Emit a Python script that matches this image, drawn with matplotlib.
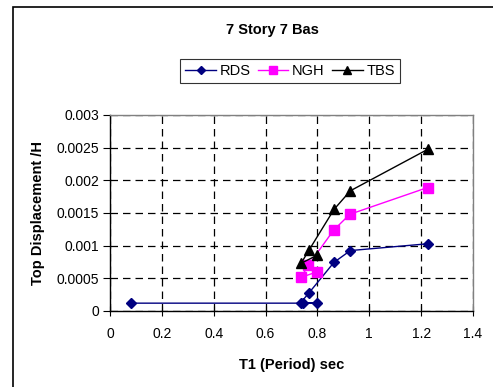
import matplotlib.pyplot as plt
from matplotlib.patches import Rectangle

plt.rcParams['font.family'] = ['Liberation Sans', 'DejaVu Sans']

# period (sec) vs top displacement ratio, in sheet order
rds_t = [0.08, 0.80, 0.745, 0.736, 0.768, 0.864, 0.927, 1.228]
rds_d = [0.00012, 0.00012, 0.00013, 0.00013, 0.00028, 0.000745, 0.000925, 0.00103]

ngh_t = [0.799, 0.737, 0.765, 0.863, 0.925, 1.225]
ngh_d = [0.0006, 0.000515, 0.0007, 0.00124, 0.00148, 0.00189]

tbs_t = [0.797, 0.737, 0.768, 0.864, 0.927, 1.228]
tbs_d = [0.00085, 0.00073, 0.000935, 0.001555, 0.00184, 0.00248]

x_ticks = [0, 0.2, 0.4, 0.6, 0.8, 1.0, 1.2, 1.4]
x_labels = ['0', '0.2', '0.4', '0.6', '0.8', '1', '1.2', '1.4']
y_ticks = [0, 0.0005, 0.001, 0.0015, 0.002, 0.0025, 0.003]
y_labels = ['0', '0.0005', '0.001', '0.0015', '0.002', '0.0025', '0.003']

W, H = 493, 387
fig = plt.figure(figsize=(W / 100, H / 100), dpi=100)
ax = fig.add_axes([110 / W, 1 - 311 / H, (473 - 110) / W, (311 - 115) / H])

# chart area frame (runs off the right and bottom edge)
fig.patches.append(Rectangle((13 / W, -0.05), 1.2, 1 - 7 / H + 0.05,
                             transform=fig.transFigure, fill=False,
                             edgecolor='black', linewidth=1.2))

ax.plot(rds_t, rds_d, color='#000080', linewidth=1, marker='D',
        markersize=5, label='RDS', zorder=3)
ax.plot(ngh_t, ngh_d, color='#FF00FF', linewidth=1, marker='s',
        markersize=6.5, label='NGH', zorder=3)
ax.plot(tbs_t, tbs_d, color='black', linewidth=1, marker='^',
        markersize=7.5, label='TBS', zorder=4)

ax.set_xlim(0, 1.4)
ax.set_ylim(0, 0.003)
ax.set_xticks(x_ticks)
ax.set_xticklabels(x_labels)
ax.set_yticks(y_ticks)
ax.set_yticklabels(y_labels)
ax.tick_params(axis='x', direction='inout', length=7, width=0.8, labelsize=10, pad=8)
ax.tick_params(axis='y', direction='out', length=5, width=0.8, labelsize=10, pad=3)

ax.grid(True, color='black', linestyle=(0, (6, 4)), linewidth=0.9)
for side in ['top', 'right']:
    ax.spines[side].set_color('#808080')
    ax.spines[side].set_linewidth(1)
for side in ['left', 'bottom']:
    ax.spines[side].set_color('black')
    ax.spines[side].set_linewidth(1)

ax.set_xlabel('T1 (Period) sec', fontsize=10.5, fontweight='bold', labelpad=12)
ax.set_ylabel('Top Displacement /H', fontsize=10.5, fontweight='bold', labelpad=8)

fig.text(272 / W, 1 - 30 / H, '7 Story 7 Bas', ha='center', va='center',
         fontsize=10.5, fontweight='bold')

leg = fig.legend(loc='center', bbox_to_anchor=(290 / W, 1 - 71 / H), ncol=3,
                 fontsize=10.5, frameon=True, fancybox=False, handlelength=2.1,
                 handletextpad=0.25, columnspacing=0.5, borderpad=0.35,
                 borderaxespad=0, markerscale=0.8)
leg.get_frame().set_edgecolor('black')
leg.get_frame().set_linewidth(0.8)

fig.savefig('out.png', dpi=100)
